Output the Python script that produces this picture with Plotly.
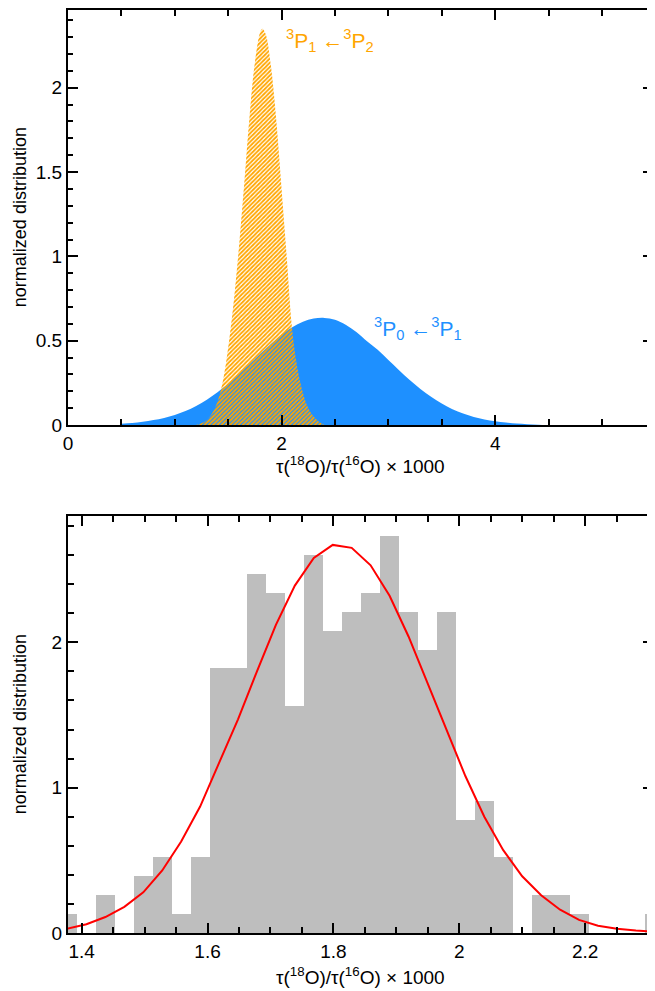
import plotly.graph_objects as go

# ---------------- data ----------------
# top panel: orange distribution 3P1 <- 3P2
orange_x = [1.20, 1.25, 1.30, 1.35, 1.40, 1.45, 1.50, 1.55, 1.60, 1.65, 1.70, 1.75,
            1.80, 1.82, 1.85, 1.90, 1.95, 2.00, 2.05, 2.10, 2.15, 2.20, 2.25, 2.30,
            2.35, 2.40]
orange_y = [0.00, 0.01, 0.03, 0.07, 0.14, 0.26, 0.46, 0.72, 1.05, 1.43, 1.83, 2.15,
            2.33, 2.35, 2.32, 2.13, 1.81, 1.40, 0.98, 0.56, 0.33, 0.19, 0.10, 0.05,
            0.02, 0.00]

# top panel: blue distribution 3P0 <- 3P1
blue_x = [0.50, 0.60, 0.70, 0.80, 0.90, 1.00, 1.10, 1.20, 1.30, 1.40, 1.50, 1.60,
          1.70, 1.80, 1.90, 2.00, 2.10, 2.20, 2.30, 2.40, 2.50, 2.60, 2.70, 2.80,
          2.90, 3.00, 3.10, 3.20, 3.30, 3.40, 3.50, 3.60, 3.70, 3.80, 3.90, 4.00,
          4.10, 4.20, 4.30, 4.40, 4.50]
blue_y = [0.008, 0.012, 0.019, 0.029, 0.042, 0.060, 0.083, 0.113, 0.150, 0.194, 0.244,
          0.301, 0.361, 0.422, 0.481, 0.535, 0.579, 0.612, 0.631, 0.635, 0.624, 0.595,
          0.551, 0.496, 0.446, 0.385, 0.325, 0.267, 0.214, 0.167, 0.127, 0.094, 0.068,
          0.048, 0.033, 0.022, 0.015, 0.009, 0.005, 0.002, 0.000]

# bottom panel: histogram (bin centres and normalized heights)
hist_x = [1.3775, 1.4076, 1.4377, 1.4678, 1.4979, 1.5280, 1.5581, 1.5882, 1.6183,
          1.6484, 1.6785, 1.7086, 1.7387, 1.7688, 1.7989, 1.8290, 1.8591, 1.8892,
          1.9193, 1.9494, 1.9795, 2.0096, 2.0397, 2.0698, 2.0999, 2.1300, 2.1601,
          2.1902, 2.2203, 2.2504, 2.2805, 2.3106]
hist_y = [0.13, 0.00, 0.26, 0.00, 0.39, 0.52, 0.13, 0.52, 1.82, 1.82, 2.47, 2.34,
          1.56, 2.60, 2.08, 2.21, 2.34, 2.73, 2.21, 1.95, 2.21, 0.78, 0.91, 0.52,
          0.00, 0.26, 0.26, 0.13, 0.00, 0.00, 0.00, 0.13]
bin_width = 0.0301

# bottom panel: fitted curve (sampled at the bin centres)
fit_y = [0.03, 0.06, 0.11, 0.18, 0.28, 0.43, 0.63, 0.87, 1.17, 1.47, 1.80, 2.12,
         2.39, 2.58, 2.67, 2.65, 2.53, 2.32, 2.04, 1.72, 1.39, 1.08, 0.80, 0.57,
         0.39, 0.26, 0.16, 0.09, 0.05, 0.03, 0.017, 0.009]

ORANGE = "#FFA500"
BLUE = "#1E90FF"
FONT = "Liberation Sans"

fig = go.Figure()

fig.add_trace(go.Scatter(x=blue_x, y=blue_y, mode="lines", line=dict(width=0, color=BLUE, shape="spline"),
                         fill="tozeroy", fillcolor=BLUE, xaxis="x", yaxis="y", showlegend=False))
fig.add_trace(go.Scatter(x=orange_x, y=orange_y, mode="lines", line=dict(width=0, color=ORANGE, shape="spline"),
                         fill="tozeroy", fillcolor=ORANGE,
                         fillpattern=dict(shape="/", fgcolor=ORANGE, bgcolor="rgba(0,0,0,0)",
                                          size=3, solidity=0.6, fillmode="replace"),
                         xaxis="x", yaxis="y", showlegend=False))

fig.add_trace(go.Bar(x=hist_x, y=hist_y, width=bin_width, marker=dict(color="#BEBEBE", line=dict(width=0)),
                     xaxis="x2", yaxis="y2", showlegend=False))
fig.add_trace(go.Scatter(x=hist_x, y=fit_y, mode="lines", line=dict(color="#FF0000", width=2),
                         xaxis="x2", yaxis="y2", showlegend=False, cliponaxis=True))

# the page body adds an 8 px margin; positions below are page pixels
OFF = 8
W, H = 655 - OFF, 991 - OFF
PLOT_L, PLOT_R, PLOT_T, PLOT_B = 68, 655, 10, 933
L = PLOT_L - OFF
R = 0
T = PLOT_T - OFF
B = (H + OFF) - PLOT_B
ph = PLOT_B - PLOT_T
pw = PLOT_R - PLOT_L

def py(p):
    return (PLOT_B - p) / ph

def px(p):
    return (p - PLOT_L) / pw

axis_common = dict(showline=True, linecolor="black", linewidth=2, mirror="allticks",
                   ticks="inside", tickcolor="black", tickwidth=1.5, showgrid=False,
                   zeroline=False, tickfont=dict(family=FONT, size=19, color="black"))

fig.update_layout(
    width=W, height=H, margin=dict(l=L, r=R, t=T, b=B),
    paper_bgcolor="white", plot_bgcolor="white", bargap=0,
    xaxis=dict(domain=[0, 1], anchor="y", range=[0, 5.478], tickmode="array",
               tickvals=[0, 2, 4], ticktext=["0", "2", "4"], ticklen=10,
               minor=dict(dtick=0.5, ticklen=6, ticks="inside", tickcolor="black", tickwidth=1.5),
               **axis_common),
    yaxis=dict(domain=[py(425), 1], anchor="x", range=[0, 2.461], tickmode="array",
               tickvals=[0, 0.5, 1, 1.5, 2], ticktext=["0", "0.5", "1", "1.5", "2"], ticklen=10,
               minor=dict(dtick=0.1, ticklen=5, ticks="inside", tickcolor="black", tickwidth=1.5),
               **axis_common),
    xaxis2=dict(domain=[0, 1], anchor="y2", range=[1.3783, 2.3077], tickmode="array",
                tickvals=[1.4, 1.6, 1.8, 2.0, 2.2], ticktext=["1.4", "1.6", "1.8", "2", "2.2"], ticklen=10,
                minor=dict(dtick=0.05, tick0=1.4, ticklen=6, ticks="inside", tickcolor="black", tickwidth=1.5),
                **axis_common),
    yaxis2=dict(domain=[0, py(516)], anchor="x2", range=[0, 2.869], tickmode="array",
                tickvals=[0, 1, 2], ticktext=["0", "1", "2"], ticklen=10,
                minor=dict(dtick=0.2, ticklen=6, ticks="inside", tickcolor="black", tickwidth=1.5),
                **axis_common),
)

xt = "τ(<sup>18</sup>O)/τ(<sup>16</sup>O) × 1000"
ann = [
    dict(text=xt, x=px(362), y=py(465), xref="paper", yref="paper", showarrow=False,
         font=dict(family=FONT, size=19, color="black"), xanchor="center", yanchor="middle"),
    dict(text=xt, x=px(362), y=py(976), xref="paper", yref="paper", showarrow=False,
         font=dict(family=FONT, size=19, color="black"), xanchor="center", yanchor="middle"),
    dict(text="normalized distribution", x=px(20), y=py(217), xref="paper", yref="paper",
         showarrow=False, textangle=-90, font=dict(family=FONT, size=18, color="black"),
         xanchor="center", yanchor="middle"),
    dict(text="normalized distribution", x=px(20), y=py(724), xref="paper", yref="paper",
         showarrow=False, textangle=-90, font=dict(family=FONT, size=18, color="black"),
         xanchor="center", yanchor="middle"),
    dict(text="<sup>3</sup>P<sub>1</sub> ←<sup>3</sup>P<sub>2</sub>", x=2.02, y=2.28, xref="x", yref="y",
         showarrow=False, font=dict(family=FONT, size=21, color=ORANGE), xanchor="left", yanchor="middle"),
    dict(text="<sup>3</sup>P<sub>0</sub> ←<sup>3</sup>P<sub>1</sub>", x=2.85, y=0.575, xref="x", yref="y",
         showarrow=False, font=dict(family=FONT, size=21, color=BLUE), xanchor="left", yanchor="middle"),
]
fig.update_layout(annotations=ann)

fig.write_html("out.html")
